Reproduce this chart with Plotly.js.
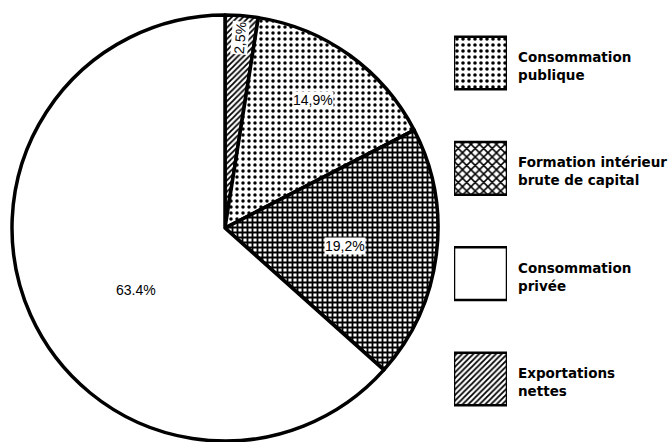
<!DOCTYPE html>
<html><head><meta charset="utf-8">
<script src="https://cdn.plot.ly/plotly-3.0.1.min.js"></script>
<style>html,body{margin:0;padding:0;background:#fff}</style>
</head><body><div id="chart" style="width:671px;height:442px"></div>
<script>
// ---- data ----
const categories = ["Exportations nettes", "Consommation publique", "Formation intérieur brute de capital", "Consommation privée"];
const values = [2.5, 14.9, 19.2, 63.4];
const sliceLabels = ["2,5%", "14,9%", "19,2%", "63.4%"];
const slicePatterns = ["/", ".", "+", ""];
const legendOrder = ["Consommation publique", "Formation intérieur brute de capital", "Consommation privée", "Exportations nettes"];
const legendText = ["Consommation<br>publique", "Formation intérieur<br>brute de capital", "Consommation<br>privée", "Exportations<br>nettes"];
const legendPatterns = [".", "x", "", "/"];

// ---- styling ----
const W = 671, H = 442;
const cx = 225, cy = 228, R = 213;        // pie geometry in pixels
const labelRadius = [0.895, 0.73, 0.57, 0.51];
const labelAngleShift = [0, -1.5, 1.5, -11];
const labelAngle = [-85.5, 0, 0, 0];

const pie = {
  type: "pie",
  labels: categories,
  values: values,
  sort: false,
  direction: "clockwise",
  rotation: 0,
  textinfo: "none",
  hoverinfo: "label+percent",
  showlegend: false,
  domain: {x: [(cx - R) / W, (cx + R) / W], y: [(H - cy - R) / H, (H - cy + R) / H]},
  marker: {
    colors: categories.map(() => "white"),
    line: {color: "black", width: 3.5},
    pattern: {shape: slicePatterns, fgcolor: "black", bgcolor: "white",
              size: [4, 6, 5, 8], solidity: [0.45, 0.26, 0.6, 0.3]}
  }
};

const legendBoxes = {
  type: "bar",
  orientation: "h",
  y: legendOrder,
  x: legendOrder.map(() => 1),
  width: 0.5,
  showlegend: false,
  hoverinfo: "skip",
  marker: {
    color: "white",
    line: {color: "black", width: 2.5},
    pattern: {shape: legendPatterns, fgcolor: "black", bgcolor: "white",
              size: [6, 6, 8, 4], solidity: [0.28, 0.45, 0.3, 0.45]}
  }
};

// slice label annotations computed from the values
const total = values.reduce((a, b) => a + b, 0);
const annotations = [];
let cum = 0;
values.forEach((v, i) => {
  const mid = (cum + v / 2) / total * 360 + labelAngleShift[i];
  cum += v;
  const a = mid * Math.PI / 180;
  const r = R * labelRadius[i];
  const px = cx + r * Math.sin(a);
  const py = cy - r * Math.cos(a);
  annotations.push({
    x: px / W, y: 1 - py / H, xref: "paper", yref: "paper",
    xanchor: "center", yanchor: "middle",
    text: sliceLabels[i], showarrow: false, textangle: labelAngle[i],
    font: {family: "Liberation Sans, Arial, sans-serif", size: 14, color: "black"},
    bgcolor: "white", borderpad: 0
  });
});
legendOrder.forEach((c, i) => {
  annotations.push({
    x: 516 / W, xref: "paper", xanchor: "left",
    y: c, yref: "y", yanchor: "middle", yshift: -3,
    text: legendText[i], align: "left", showarrow: false,
    font: {family: "DejaVu Sans, sans-serif", size: 13.5, color: "black", weight: "bold"}
  });
});

const layout = {
  width: W, height: H,
  margin: {l: 0, r: 0, t: 0, b: 0},
  paper_bgcolor: "white", plot_bgcolor: "rgba(0,0,0,0)",
  showlegend: false,
  xaxis: {domain: [454 / W, 507 / W], range: [0, 1], visible: false, fixedrange: true},
  yaxis: {domain: [0, 1], type: "category", categoryarray: legendOrder, categoryorder: "array",
          range: [3.598, -0.598], visible: false, fixedrange: true},
  annotations: annotations
};

Plotly.newPlot("chart", [pie, legendBoxes], layout, {displayModeBar: false, staticPlot: true});
</script>
</body></html>
